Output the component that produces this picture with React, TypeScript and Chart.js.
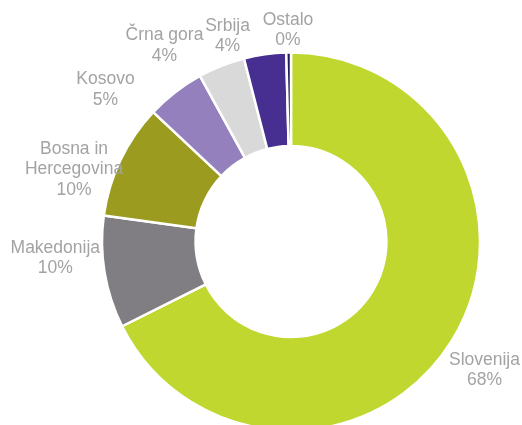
import React, { useEffect, useRef } from "react";
import { Chart, registerables } from "chart.js";

Chart.register(...registerables);

// ---- data ----
const categories = [
  "Slovenija",
  "Makedonija",
  "Bosna in Hercegovina",
  "Kosovo",
  "Črna gora",
  "Srbija",
  "Ostalo",
];
const shares = [67.6, 9.6, 9.8, 5.0, 4.0, 3.6, 0.4];
const sliceColors = [
  "#C0D72F",
  "#807E82",
  "#9A9B1F",
  "#9580BE",
  "#D9D9D9",
  "#472F91",
  "#221E5C",
];
// label placement relative to each slice (angle shift in degrees, distance beyond outer edge)
const labelAngleShift = [1.7, 5.6, -6.9, -12.65, -11.07, -9.17, -0.09];
const labelGap = [42.7, 47.2, 40, 51.6, 45.4, 27, 23.7];

const FONT_SIZE = 17.5;
const LINE_H = 20.3;
const FONT = `${FONT_SIZE}px "Liberation Sans", Arial, sans-serif`;
const TEXT_COLOR = "#A3A3A3";

function wrap(ctx: CanvasRenderingContext2D, text: string, maxW: number): string[] {
  const words = text.split(" ");
  const lines: string[] = [];
  let cur = "";
  for (const w of words) {
    const test = cur ? cur + " " + w : w;
    if (cur && ctx.measureText(test).width > maxW) {
      lines.push(cur);
      cur = w;
    } else {
      cur = test;
    }
  }
  if (cur) lines.push(cur);
  return lines;
}

const outsideLabels = {
  id: "outsideLabels",
  afterDatasetsDraw(chart: any) {
    const ctx: CanvasRenderingContext2D = chart.ctx;
    const meta = chart.getDatasetMeta(0);
    const values: number[] = chart.data.datasets[0].data;
    const labels: string[] = chart.data.labels;
    ctx.save();
    ctx.font = FONT;
    ctx.fillStyle = TEXT_COLOR;
    ctx.textAlign = "center";
    ctx.textBaseline = "alphabetic";
    const capH = FONT_SIZE * 0.716;
    meta.data.forEach((arc: any, i: number) => {
      const p = arc.getProps(["x", "y", "startAngle", "endAngle", "outerRadius"], true);
      const mid = (p.startAngle + p.endAngle) / 2 + (labelAngleShift[i] * Math.PI) / 180;
      const r = p.outerRadius + labelGap[i];
      const cx = p.x + Math.cos(mid) * r;
      const cy = p.y + Math.sin(mid) * r;
      const lines = [...wrap(ctx, labels[i], 105), `${Math.round(values[i])}%`];
      const n = lines.length;
      lines.forEach((line, k) => {
        const base = cy + capH / 2 + (k - (n - 1) / 2) * LINE_H;
        ctx.fillText(line, cx, base);
      });
    });
    ctx.restore();
  },
};

export default function App() {
  const ref = useRef<HTMLCanvasElement | null>(null);
  useEffect(() => {
    if (!ref.current) return;
    const chart = new Chart(ref.current, {
      type: "doughnut",
      data: {
        labels: categories,
        datasets: [
          {
            data: shares,
            backgroundColor: sliceColors,
            borderColor: "#FFFFFF",
            borderWidth: 2.5,
            clip: false,
          } as any,
        ],
      },
      options: {
        responsive: false,
        animation: false,
        cutout: "50.5%",
        radius: 189,
        layout: { padding: { left: 60, right: 0, top: 58, bottom: 0 } },
        plugins: {
          legend: { display: false },
          tooltip: { enabled: false },
        },
      } as any,
      plugins: [outsideLabels],
    });
    return () => chart.destroy();
  }, []);
  return (
    <div style={{ position: "fixed", left: 0, top: 0, width: 522, height: 425, background: "#fff" }}>
      <canvas ref={ref} width={522} height={425} style={{ display: "block" }} />
    </div>
  );
}
